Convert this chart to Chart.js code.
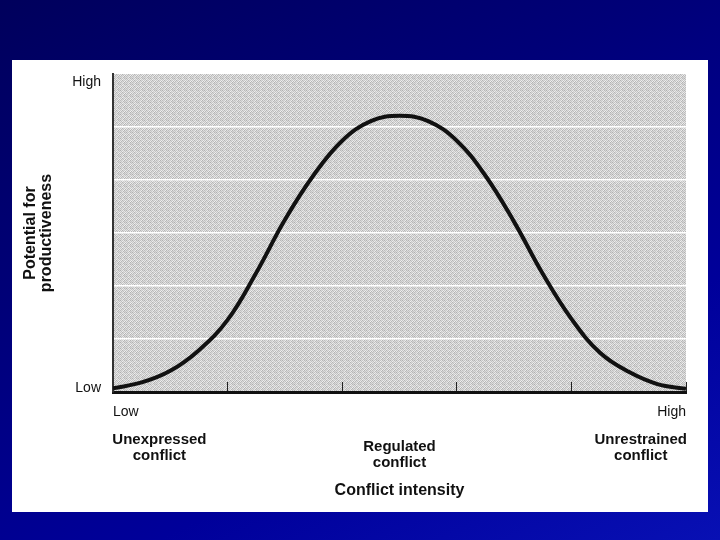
<!DOCTYPE html>
<html>
<head>
<meta charset="utf-8">
<title>Conflict intensity and productiveness</title>
<script src="https://cdn.jsdelivr.net/npm/chart.js@4.4.1/dist/chart.umd.min.js"></script>
<style>
  html, body { margin: 0; padding: 0; }
  body {
    width: 720px;
    height: 540px;
    overflow: hidden;
    position: relative;
    background: linear-gradient(155deg, #00005c 0%, #000078 35%, #00009a 70%, #0810b4 100%);
  }
  #panel { position: absolute; left: 12px; top: 60px; width: 696px; height: 452px; background: #fff; }
  #chart { position: absolute; left: 0; top: 0; }
</style>
</head>
<body>
<div id="panel"></div>
<canvas id="chart" width="720" height="540"></canvas>
<script>
const FONT = "'Liberation Sans', Arial, Helvetica, sans-serif";

// curve every 5 units (x: conflict intensity 0-100, y: grid units 0-6)
const curveX = [0, 5, 10, 15, 20, 25, 30, 35, 40, 45, 50, 55, 60, 65, 70, 75, 80, 85, 90, 95, 100];
const curveY = [0.07, 0.18, 0.40, 0.79, 1.36, 2.25, 3.25, 4.09, 4.74, 5.11, 5.21, 5.11, 4.74, 4.08, 3.21, 2.23, 1.38, 0.74, 0.38, 0.15, 0.06];

// tick labels
const xTickLabels = ['Low', '', '', '', '', 'High'];
const yTickLabels = ['Low', '', '', '', '', '', 'High'];

// category captions under the axis
const categories = [['Unexpressed', 'conflict'], ['Regulated', 'conflict'], ['Unrestrained', 'conflict']];
const categoryAt = [8.1, 50, 92.1];

const xTitle = 'Conflict intensity';
const yTitle = ['Potential for', 'productiveness'];

// dithered grey, like the scanned textbook screen
function makeTexture(ctx) {
  const shades = [
    [176, 222, 196, 232, 184, 214],
    [226, 190, 238, 202, 228, 194],
    [198, 230, 180, 218, 200, 236],
    [234, 186, 220, 192, 240, 182],
    [188, 216, 204, 236, 178, 224],
    [220, 198, 232, 184, 212, 196]
  ];
  const c = document.createElement('canvas');
  c.width = 6; c.height = 6;
  const g = c.getContext('2d');
  shades.forEach((row, r) => row.forEach((v, k) => {
    g.fillStyle = `rgb(${v},${v},${v})`;
    g.fillRect(k, r, 1, 1);
  }));
  return ctx.createPattern(c, 'repeat');
}

const plotFill = {
  id: 'plotFill',
  beforeDraw(chart) {
    const { ctx, chartArea: a } = chart;
    ctx.save();
    ctx.fillStyle = makeTexture(ctx);
    ctx.fillRect(a.left, a.top, a.right - a.left, a.bottom - a.top);
    ctx.restore();
  }
};

const categoryLabels = {
  id: 'categoryLabels',
  afterDraw(chart, args, opts) {
    const { ctx, chartArea: a, scales: { x } } = chart;
    ctx.save();
    ctx.font = `bold 15px ${FONT}`;
    ctx.fillStyle = '#111';
    ctx.textAlign = 'center';
    ctx.textBaseline = 'alphabetic';
    categories.forEach((lines, i) => {
      const px = x.getPixelForValue(categoryAt[i]);
      const y0 = a.bottom + opts.firstBaseline + opts.drop[i];
      lines.forEach((t, j) => ctx.fillText(t, px, y0 + j * opts.lineGap));
    });
    ctx.restore();
  }
};

const ctx = document.getElementById('chart').getContext('2d');
new Chart(ctx, {
  type: 'line',
  data: {
    datasets: [{
      data: curveX.map((x, i) => ({ x, y: curveY[i] })),
      borderColor: '#111',
      borderWidth: 4,
      pointRadius: 0,
      tension: 0.4,
      fill: false
    }]
  },
  options: {
    responsive: false,
    animation: false,
    layout: { padding: { left: 12, top: 74, right: 34, bottom: 0 } },
    plugins: {
      legend: { display: false },
      tooltip: { enabled: false },
      categoryLabels: { firstBaseline: 51.5, lineGap: 16, drop: [0, 7.5, 0] }
    },
    scales: {
      x: {
        type: 'linear',
        min: 0,
        max: 100,
        afterFit(s) { s.height = 148; },
        ticks: {
          stepSize: 20,
          align: 'inner',
          autoSkip: false,
          maxRotation: 0,
          padding: 22,
          color: '#111',
          font: { family: FONT, size: 14 },
          callback: (v, i) => xTickLabels[i]
        },
        grid: { drawOnChartArea: false, drawTicks: true, tickLength: -10, color: '#222', lineWidth: 1 },
        border: { display: true, color: '#111', width: 3 },
        title: {
          display: true,
          text: xTitle,
          color: '#111',
          font: { family: FONT, size: 16, weight: 'bold' },
          padding: { top: 0, bottom: 40 }
        }
      },
      y: {
        min: 0,
        max: 6,
        afterFit(s) { s.width = 101; },
        ticks: {
          stepSize: 1,
          padding: 12,
          color: '#111',
          // line height sets how far the end labels sit inside the plot edges
          font: (c) => ({ family: FONT, size: 14, lineHeight: c.index === 0 ? 8 / 14 : 16 / 14 }),
          callback: (v, i) => {
            const t = yTickLabels[i];
            if (i === 0) return [t, ''];
            if (i === yTickLabels.length - 1) return ['', t];
            return t;
          }
        },
        grid: {
          color: (c) => (c.tick && c.tick.value > 0 && c.tick.value < 6) ? '#ffffff' : 'rgba(0,0,0,0)',
          lineWidth: 1.5,
          drawTicks: false
        },
        border: { display: true, color: '#333', width: 2 },
        title: {
          display: true,
          text: yTitle,
          color: '#111',
          font: { family: FONT, size: 16, weight: 'bold', lineHeight: 1 },
          padding: { top: 11, bottom: 0 }
        }
      }
    }
  },
  plugins: [plotFill, categoryLabels]
});
</script>
</body>
</html>
